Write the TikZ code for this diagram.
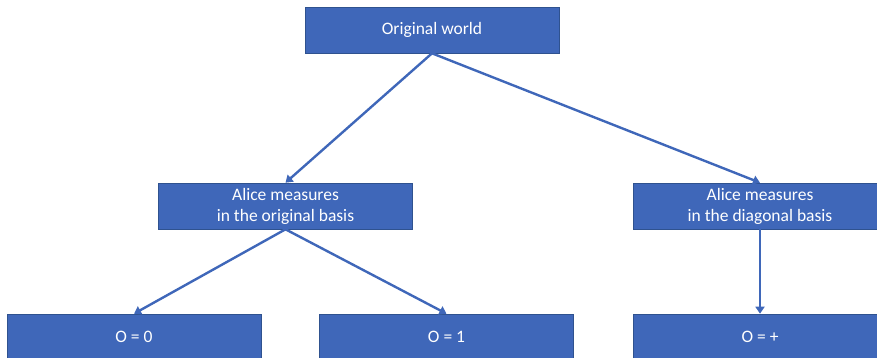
\documentclass[tikz,border=0pt]{standalone}
\usepackage{fontspec}
\setmainfont{Carlito}
\usepackage{tikz}
\usetikzlibrary{arrows.meta}

\definecolor{boxblue}{HTML}{3F67B9}
\definecolor{boxedge}{HTML}{2F528F}

\begin{document}
\begin{tikzpicture}[x=1pt,y=-1pt]
	\useasboundingbox (0,0) rectangle (877,358);
	\begin{scope}[every node/.style={rectangle,draw=boxedge,line width=0.6pt,fill=boxblue,text=white,
			minimum width=254pt,minimum height=46pt,inner sep=0pt,align=center,
			font=\fontsize{17.5}{21}\selectfont}]
		% Top
		\node (world) at (432,30) {Original world};

		% Measurements
		\node (orig_basis) at (285.5,206) {Alice measures\\in the original basis};
		\node (diag_basis) at (760,206) {Alice measures\\in the diagonal basis};

		% Outcomes
		\node (out_zero) at (134,337) {O = 0};
		\node (out_one) at (446.5,337) {O = 1};
		\node (out_plus) at (760,337) {O = +};
	\end{scope}

	\begin{scope}[draw=boxblue,line width=2.4pt,-{Triangle[width=9pt,length=7pt]}]
		\draw (world.south) -- (orig_basis.north);
		\draw (world.south) -- (diag_basis.north);
		\draw (orig_basis.south) -- (out_zero.north);
		\draw (orig_basis.south) -- (out_one.north);
		\draw (diag_basis.south) -- (out_plus.north);
	\end{scope}
\end{tikzpicture}
\end{document}
